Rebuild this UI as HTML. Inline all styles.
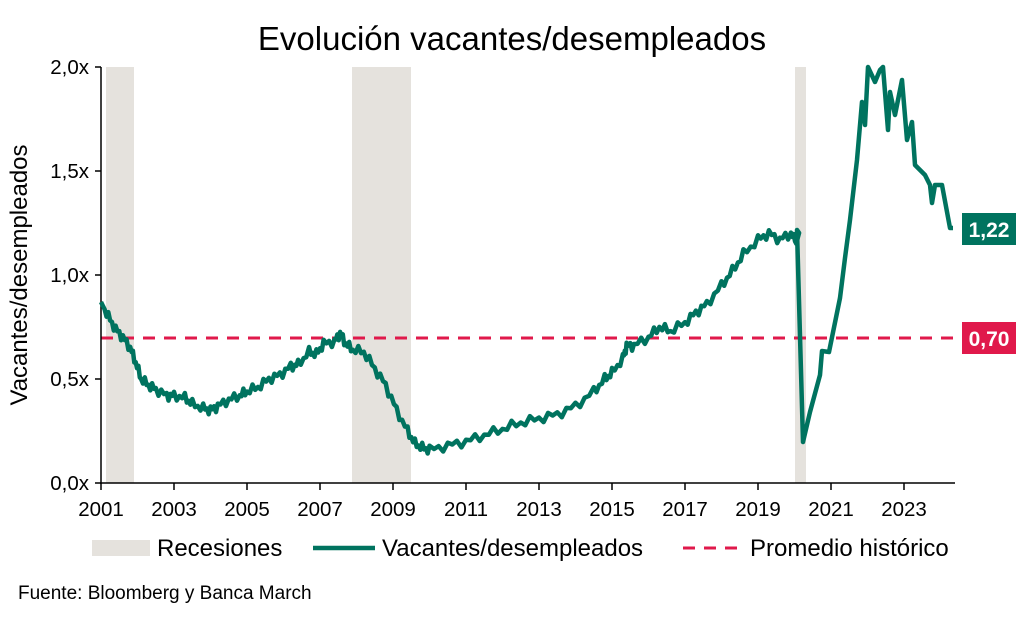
<!DOCTYPE html>
<html><head><meta charset="utf-8"><style>
body{margin:0;background:#fff;width:1024px;height:614px;overflow:hidden;font-family:"Liberation Sans",sans-serif}
</style></head><body>
<svg id="s" width="1024" height="614" xmlns="http://www.w3.org/2000/svg" font-family="Liberation Sans, sans-serif">
<text x="512" y="50" font-size="33" text-anchor="middle" fill="#000">Evolución vacantes/desempleados</text>
<rect x="106" y="67" width="28" height="416" fill="#e5e2dd"/>
<rect x="352" y="67" width="59" height="416" fill="#e5e2dd"/>
<rect x="795" y="67" width="11" height="416" fill="#e5e2dd"/>
<line x1="101" y1="338" x2="955" y2="338" stroke="#e0194b" stroke-width="3" stroke-dasharray="12,9"/>
<g id="ax" stroke="#000" stroke-width="1.5"></g>
<g id="lbl" font-size="20.5" fill="#000"></g>
<path id="ln" fill="none" stroke="#00735f" stroke-width="4.5" stroke-linejoin="round"/>
<text transform="translate(27,275) rotate(-90)" font-size="24" text-anchor="middle">Vacantes/desempleados</text>
<rect x="962" y="213" width="54" height="32" fill="#00735f"/>
<text x="989" y="237" font-size="21" font-weight="bold" fill="#fff" text-anchor="middle">1,22</text>
<rect x="962" y="322" width="54" height="32" fill="#e0194b"/>
<text x="989" y="346" font-size="21" font-weight="bold" fill="#fff" text-anchor="middle">0,70</text>
<rect x="92" y="540" width="58" height="16" fill="#e5e2dd"/>
<text x="157" y="556" font-size="24">Recesiones</text>
<line x1="313" y1="548" x2="375" y2="548" stroke="#00735f" stroke-width="4.5"/>
<text x="382" y="556" font-size="24">Vacantes/desempleados</text>
<line x1="683" y1="548" x2="743" y2="548" stroke="#e0194b" stroke-width="3" stroke-dasharray="12,9"/>
<text x="750" y="556" font-size="24">Promedio histórico</text>
<text x="18" y="599" font-size="19">Fuente: Bloomberg y Banca March</text>
</svg>
<script>
var ns="http://www.w3.org/2000/svg";
function X(y){return 101+(y-2001)*36.5}
function Y(v){return 483-v*208}
var ax=document.getElementById('ax'),lb=document.getElementById('lbl');
function L(a,b,c,d){var l=document.createElementNS(ns,'line');l.setAttribute('x1',a);l.setAttribute('y1',b);l.setAttribute('x2',c);l.setAttribute('y2',d);ax.appendChild(l)}
function T(x,y,t,a){var e=document.createElementNS(ns,'text');e.setAttribute('x',x);e.setAttribute('y',y);e.setAttribute('text-anchor',a);e.textContent=t;lb.appendChild(e)}
L(101,67,101,484);L(100,483,955,483);
for(var i=0;i<=4;i++){var yy=Y(i*0.5);L(95,yy,101,yy);T(89,yy+7,(i*0.5).toFixed(1).replace('.',',')+'x','end')}
for(var y=2001;y<=2023;y+=2){var xx=X(y);L(xx,483,xx,490);T(xx,516,''+y,'middle')}
var k=[[2001,.87],[2001.2,.80],[2001.4,.74],[2001.6,.70],[2001.8,.65],[2001.95,.58],[2002.1,.50],[2002.3,.47],[2002.5,.45],[2002.8,.42],[2003,.42],[2003.3,.41],[2003.5,.38],[2003.8,.36],[2004,.35],[2004.2,.37],[2004.5,.40],[2004.8,.42],[2005,.44],[2005.3,.46],[2005.6,.50],[2005.9,.52],[2006.2,.56],[2006.4,.57],[2006.7,.63],[2006.9,.62],[2007.1,.67],[2007.4,.68],[2007.55,.72],[2007.7,.67],[2007.9,.64],[2008.2,.63],[2008.5,.55],[2008.8,.47],[2009.1,.35],[2009.4,.25],[2009.6,.19],[2009.8,.17],[2010,.16],[2010.5,.18],[2011,.20],[2011.5,.23],[2012,.26],[2012.5,.29],[2013,.31],[2013.5,.33],[2014,.37],[2014.5,.44],[2014.8,.50],[2015,.53],[2015.3,.60],[2015.4,.66],[2015.6,.66],[2016,.70],[2016.3,.75],[2016.6,.73],[2017,.77],[2017.3,.82],[2017.6,.86],[2018,.95],[2018.3,1.02],[2018.6,1.10],[2019,1.17],[2019.3,1.20],[2019.6,1.17],[2019.9,1.20],[2020.05,1.15],[2020.15,1.22]];
var d='',n=0;
for(var j=0;j<k.length-1;j++){var a=k[j],b=k[j+1];for(var m=0;m<4;m++){var t=m/4,yr=a[0]+(b[0]-a[0])*t,v=a[1]+(b[1]-a[1])*t;n++;if(yr>2001.1&&yr<2020)v+=(n%2?1:-1)*0.012*(1+Math.sin(n*1.7));d+=(d?'L':'M')+X(yr).toFixed(1)+','+Y(v).toFixed(1)}}
var px=[[797,230],[803,442],[810,412],[820,375],[822,351],[829,352],[840,298],[845,258],[850,220],[857,160],[862,102],[865,125],[868,67],[875,82],[880,70],[883,67],[888,130],[890,92],[895,115],[898,100],[902,80],[907,140],[912,122],[915,165],[925,175],[930,185],[932,203],[935,185],[942,185],[950,228],[953,228]];
px.forEach(function(p){d+='L'+p[0]+','+p[1]});
document.getElementById('ln').setAttribute('d',d);
</script>
</body></html>
